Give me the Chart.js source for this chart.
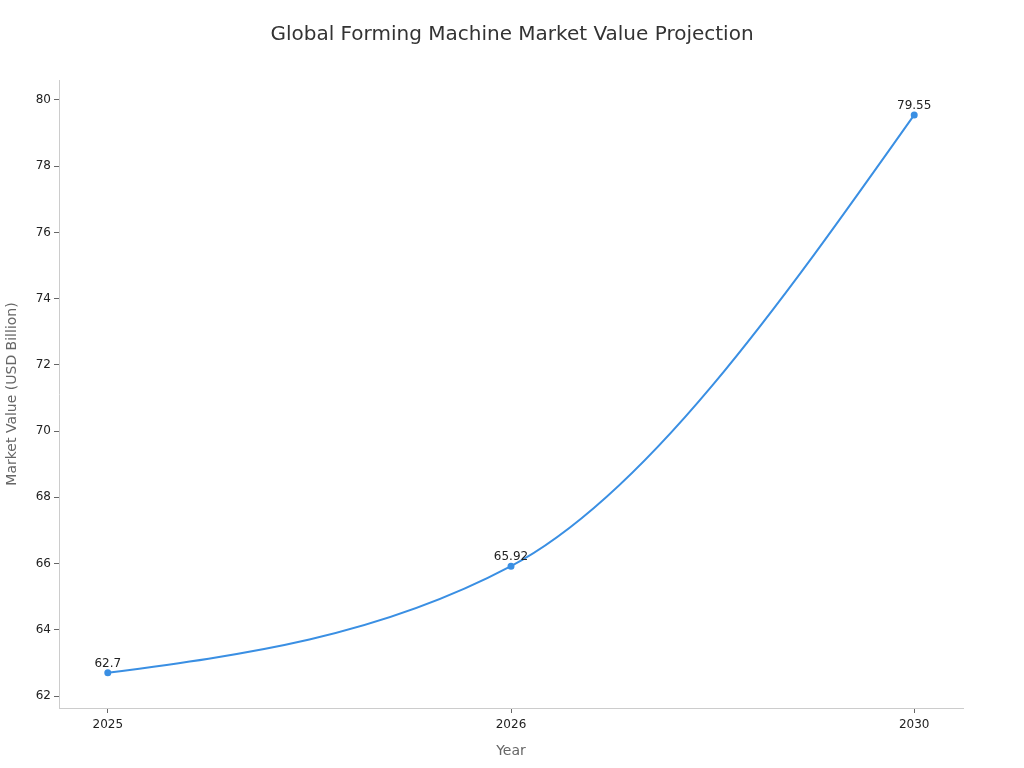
<!DOCTYPE html>
<html>
<head>
<meta charset="utf-8">
<script src="https://cdn.jsdelivr.net/npm/chart.js@4"></script>
<style>
  html, body { margin: 0; padding: 0; background: #fff; }
  #wrap { width: 1024px; height: 768px; }
</style>
</head>
<body>
<div id="wrap"><canvas id="c" width="1024" height="768"></canvas></div>
<script>
const years = ['2025', '2026', '2030'];
const marketValues = [62.7, 65.92, 79.55];
const yTickValues = [62, 64, 66, 68, 70, 72, 74, 76, 78, 80];

const FONT = "'DejaVu Sans', sans-serif";
const LINE = '#3a8fe3';

// monotone-X (d3 style) control points, computed from the scaled pixel positions
function sign(v) { return v < 0 ? -1 : 1; }
const monotoneXPlugin = {
  id: 'monotoneX',
  beforeDatasetDraw(chart, args) {
    const meta = args.meta;
    const line = meta.dataset;
    if (!line) return;
    line.updateControlPoints(chart.chartArea, 'x');
    const pts = meta.data;
    const n = pts.length;
    if (n < 2) return;
    const tang = new Array(n).fill(0);
    const h = [], s = [];
    for (let i = 0; i < n - 1; i++) {
      h[i] = pts[i + 1].x - pts[i].x;
      s[i] = (pts[i + 1].y - pts[i].y) / h[i];
    }
    for (let i = 1; i < n - 1; i++) {
      const p = (s[i - 1] * h[i] + s[i] * h[i - 1]) / (h[i - 1] + h[i]);
      tang[i] = (sign(s[i - 1]) + sign(s[i])) *
        Math.min(Math.abs(s[i - 1]), Math.abs(s[i]), 0.5 * Math.abs(p)) || 0;
    }
    if (n > 2) {
      tang[0] = (3 * s[0] - tang[1]) / 2;
      tang[n - 1] = (3 * s[n - 2] - tang[n - 2]) / 2;
    } else {
      tang[0] = tang[1] = s[0];
    }
    for (let i = 0; i < n; i++) {
      const pt = pts[i];
      if (i < n - 1) {
        const dx = h[i] / 3;
        pt.cp2x = pt.x + dx; pt.cp2y = pt.y + dx * tang[i];
      }
      if (i > 0) {
        const dx = h[i - 1] / 3;
        pt.cp1x = pt.x - dx; pt.cp1y = pt.y - dx * tang[i];
      }
    }
    line._path = undefined;
  }
};

const labelPlugin = {
  id: 'pointLabels',
  afterDatasetsDraw(chart) {
    const ctx = chart.ctx;
    const meta = chart.getDatasetMeta(0);
    ctx.save();
    ctx.font = '12px ' + FONT;
    ctx.fillStyle = '#222';
    ctx.textAlign = 'center';
    ctx.textBaseline = 'bottom';
    meta.data.forEach((pt, i) => {
      ctx.fillText(String(marketValues[i]), pt.x, pt.y - 3);
    });
    ctx.restore();
  }
};

new Chart(document.getElementById('c'), {
  type: 'line',
  data: {
    datasets: [{
      data: marketValues.map((v, i) => ({ x: i, y: v })),
      borderColor: LINE,
      backgroundColor: LINE,
      borderWidth: 2,
      pointRadius: 2.5,
      pointHoverRadius: 2.5,
      fill: false,
      tension: 0.4
    }]
  },
  options: {
    responsive: false,
    animation: false,
    devicePixelRatio: 1,
    layout: { padding: 0 },
    plugins: {
      legend: { display: false },
      tooltip: { enabled: false },
      title: {
        display: true,
        text: 'Global Forming Machine Market Value Projection',
        color: '#333',
        font: { family: FONT, size: 20, weight: 'normal', lineHeight: 1.2 },
        padding: { top: 23, bottom: 33 }
      }
    },
    scales: {
      x: {
        type: 'linear',
        min: -0.121,
        max: 2.121,
        afterBuildTicks(s) { s.ticks = years.map((_, i) => ({ value: i })); },
        afterFit(s) { s.height = 60; },
        ticks: {
          color: '#222',
          font: { family: FONT, size: 12 },
          padding: 5,
          maxRotation: 0,
          autoSkip: false,
          callback: (v) => years[v]
        },
        grid: { drawOnChartArea: false, drawTicks: true, tickLength: 5, color: '#666' },
        border: { display: true, color: '#ccc' },
        title: {
          display: true,
          text: 'Year',
          color: '#666',
          font: { family: FONT, size: 14, lineHeight: 1.2 },
          padding: { top: 0, bottom: 8 }
        }
      },
      y: {
        type: 'linear',
        position: 'left',
        min: 61.638,
        max: 80.604,
        afterBuildTicks(s) { s.ticks = yTickValues.map(v => ({ value: v })); },
        afterFit(s) { s.width = 59; },
        ticks: {
          color: '#222',
          font: { family: FONT, size: 12 },
          padding: 3,
          callback: (v) => String(v)
        },
        grid: { drawOnChartArea: false, drawTicks: true, tickLength: 5, color: '#666' },
        border: { display: true, color: '#ccc' },
        title: {
          display: true,
          text: 'Market Value (USD Billion)',
          color: '#666',
          font: { family: FONT, size: 14, lineHeight: 1.2 },
          padding: { top: 3.6, bottom: 0 }
        }
      },
      yRight: {
        type: 'linear',
        position: 'right',
        display: true,
        min: 61.638,
        max: 80.604,
        afterFit(s) { s.width = 61; },
        ticks: { display: false },
        grid: { display: false, drawTicks: false },
        border: { display: false },
        title: { display: false }
      }
    }
  },
  plugins: [monotoneXPlugin, labelPlugin]
});
</script>
</body>
</html>
